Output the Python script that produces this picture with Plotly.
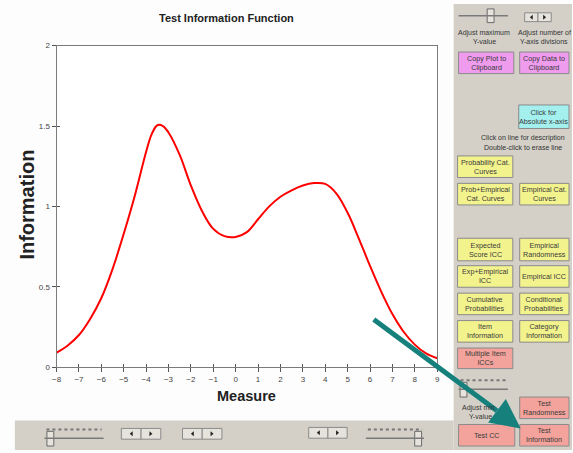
import plotly.graph_objects as go

# ---------------- data ----------------
measure = [-8, -7.5, -7, -6.5, -6, -5.5, -5, -4.5, -4, -3.75, -3.5, -3.25, -3, -2.5, -2, -1.5, -1, -0.5,
           0, 0.5, 1, 1.5, 2, 2.5, 3, 3.5, 4, 4.5, 5, 5.5, 6, 6.5, 7, 7.5, 8, 8.5, 9]
information = [0.09, 0.135, 0.20, 0.30, 0.43, 0.61, 0.83, 1.07, 1.34, 1.45, 1.505, 1.50, 1.46, 1.32, 1.13,
               0.97, 0.86, 0.815, 0.81, 0.84, 0.92, 1.00, 1.06, 1.10, 1.13, 1.145, 1.14, 1.08,
               0.96, 0.80, 0.63, 0.47, 0.33, 0.22, 0.14, 0.085, 0.055]
x_ticks = list(range(-8, 10))
y_ticks = [0, 0.5, 1, 1.5, 2]

title_text = "Test Information Function"
x_title = "Measure"
y_title = "Information"

# ---------------- layout helpers ----------------
W, H = 573, 453
def X(px):
    return px / W
def Y(py):
    return 1 - py / H

FONT = "Arial, Liberation Sans, sans-serif"
GRAY = "#d4d0c8"

fig = go.Figure()
fig.add_trace(go.Scatter(x=measure, y=information, mode="lines",
                         line=dict(color="#ff0000", width=2, shape="spline", smoothing=1.0),
                         showlegend=False, hoverinfo="skip"))
# empty trace to host the inside-tick overlay axes
fig.add_trace(go.Scatter(x=[], y=[], xaxis="x2", yaxis="y2", showlegend=False))

x_dom = [X(52.3), X(438.3)]
y_dom = [Y(370.5), Y(42.5)]

axis_common = dict(showgrid=False, zeroline=False, linecolor="#7a7a7a", linewidth=1,
                   tickcolor="#555555", tickwidth=1,
                   tickfont=dict(family=FONT, size=8, color="#444444"))

shapes = []
annotations = []

def rect(x0, y0, x1, y1, fill, line="#8c8c8c", lw=1):
    shapes.append(dict(type="rect", xref="paper", yref="paper",
                       x0=X(x0), x1=X(x1), y0=Y(y1), y1=Y(y0),
                       fillcolor=fill, line=dict(color=line, width=lw), layer="below"))

def line(x0, y0, x1, y1, color="#666666", w=1, dash="solid", layer="above"):
    shapes.append(dict(type="line", xref="paper", yref="paper",
                       x0=X(x0), x1=X(x1), y0=Y(y0), y1=Y(y1),
                       line=dict(color=color, width=w, dash=dash), layer=layer))

def text(x, y, s, size=7.5, color="#333333", bold=False, angle=0):
    annotations.append(dict(xref="paper", yref="paper", x=X(x), y=Y(y),
                            text=("<b>%s</b>" % s) if bold else s, showarrow=False,
                            xanchor="center", yanchor="middle", textangle=angle,
                            font=dict(family=FONT, size=size, color=color)))

def button(x0, y0, x1, y1, fill, label):
    rect(x0, y0, x1, y1, fill, line="#8a8a8a")
    text((x0 + x1) / 2, (y0 + y1) / 2, label, size=7.2, color="#3a3a3a")

def tri(cx, cy, direction):
    if direction == "left":
        path = f"M {X(cx+1.5)} {Y(cy-2.5)} L {X(cx-1.5)} {Y(cy)} L {X(cx+1.5)} {Y(cy+2.5)} Z"
    else:
        path = f"M {X(cx-1.5)} {Y(cy-2.5)} L {X(cx+1.5)} {Y(cy)} L {X(cx-1.5)} {Y(cy+2.5)} Z"
    shapes.append(dict(type="path", xref="paper", yref="paper", path=path,
                       fillcolor="#222222", line=dict(width=0)))

def spin(x0, y0, x1, y1):
    mid = (x0 + x1) / 2
    rect(x0, y0, mid, y1, "#e6e3dc", line="#8a8a8a")
    rect(mid, y0, x1, y1, "#e6e3dc", line="#8a8a8a")
    tri((x0 + mid) / 2, (y0 + y1) / 2, "left")
    tri((mid + x1) / 2, (y0 + y1) / 2, "right")

def slider(x0, x1, y, thumb_x, ticks=True):
    if ticks:
        line(x0 + 2, y - 9, x1 - 2, y - 9, color="#777777", w=2, dash="dot")
    line(x0, y, x1, y, color="#7a7a7a", w=1.5)
    rect(thumb_x - 3.5, y - 7, thumb_x + 3.5, y + 8, "#e6e3dc", line="#6a6a6a")

# ---------------- panels ----------------
rect(455, 0, 575, 455, GRAY, line=GRAY, lw=0)
rect(10, 425, 455, 455, GRAY, line=GRAY, lw=0)

# right panel top controls
line(460, 12, 510, 12, color="#7a7a7a", w=1.5)
rect(489, 5, 496, 19, "#e6e3dc", line="#6a6a6a")
spin(527, 9, 554, 18)
text(486, 30, "Adjust maximum", size=7)
text(486, 38, "Y-value", size=7)
text(547, 30, "Adjust number of", size=7)
text(547, 38, "Y-axis divisions", size=7)

button(460, 49, 516, 71, "#ef9cef", "Copy Plot to<br>Clipboard")
button(522, 49, 572, 71, "#ef9cef", "Copy Data to<br>Clipboard")
button(521, 103, 572, 127, "#a4f0ee", "Click for<br>Absolute x-axis")
text(525, 137, "Click on line for description", size=7)
text(525, 146, "Double-click to erase line", size=7)

YEL = "#f3f38e"
SAL = "#f3a39b"
button(459, 155, 515, 177, YEL, "Probability Cat.<br>Curves")
button(459, 183, 515, 205, YEL, "Prob+Empirical<br>Cat. Curves")
button(522, 183, 572, 205, YEL, "Empirical Cat.<br>Curves")
button(459, 239, 515, 262, YEL, "Expected<br>Score ICC")
button(522, 239, 572, 262, YEL, "Empirical<br>Randomness")
button(459, 267, 515, 289, YEL, "Exp+Empirical<br>ICC")
button(522, 267, 572, 289, YEL, "Empirical ICC")
button(459, 295, 515, 317, YEL, "Cumulative<br>Probabilities")
button(522, 295, 572, 317, YEL, "Conditional<br>Probabilities")
button(459, 323, 515, 345, YEL, "Item<br>Information")
button(522, 323, 572, 345, YEL, "Category<br>Information")
button(459, 351, 515, 372, SAL, "Multiple Item<br>ICCs")

slider(460, 510, 393, 465)
text(480, 412, "Adjust min", size=7)
text(482, 421, "Y-value", size=7)

button(522, 401, 572, 423, SAL, "Test<br>Randomness")
button(460, 429, 517, 451, SAL, "Test CC")
button(522, 429, 572, 451, SAL, "Test<br>Information")

# bottom panel controls
slider(40, 100, 443, 46)
spin(118, 433, 158, 444)
spin(180, 433, 220, 444)
spin(308, 432, 347, 443)
slider(366, 425, 443, 419)

# teal arrow
tip = (523.0, 433.0)
start = (374.0, 322.0)
dx, dy = tip[0] - start[0], tip[1] - start[1]
L = (dx ** 2 + dy ** 2) ** 0.5
ux, uy = dx / L, dy / L
hl, hw = 30, 15
bx, by = tip[0] - hl * ux, tip[1] - hl * uy
px_, py_ = -uy, ux
line(start[0], start[1], bx, by, color="#16807c", w=5)
c1 = (bx + hw * px_, by + hw * py_)
c2 = (bx - hw * px_, by - hw * py_)
shapes.append(dict(type="path", xref="paper", yref="paper",
                   path=f"M {X(tip[0])} {Y(tip[1])} L {X(c1[0])} {Y(c1[1])} L {X(c2[0])} {Y(c2[1])} Z",
                   fillcolor="#16807c", line=dict(width=0)))

# titles
text(225, 14, title_text, size=11, color="#222222", bold=True)
text(245, 400, x_title, size=14.5, color="#222222", bold=True)
text(22, 205, y_title, size=20, color="#222222", bold=True, angle=-90)

fig.update_layout(
    width=W, height=H, margin=dict(l=0, r=0, t=0, b=0),
    paper_bgcolor="#fdfdfd", plot_bgcolor="#ffffff",
    showlegend=False,
    xaxis=dict(domain=x_dom, range=[-8, 9], tickmode="array", tickvals=x_ticks,
               ticks="outside", ticklen=4, showline=True, mirror=True, anchor="y",
               **axis_common),
    yaxis=dict(domain=y_dom, range=[0, 2], tickmode="array", tickvals=y_ticks,
               ticks="outside", ticklen=4, showline=True, mirror=True, anchor="x",
               **axis_common),
    xaxis2=dict(domain=x_dom, range=[-8, 9], tickmode="array", tickvals=x_ticks,
                ticks="inside", ticklen=3, showticklabels=False, showline=False,
                showgrid=False, zeroline=False, tickcolor="#555555", anchor="y2",
                overlaying="x", side="bottom"),
    yaxis2=dict(domain=y_dom, range=[0, 2], tickmode="array", tickvals=y_ticks,
                ticks="inside", ticklen=3, showticklabels=False, showline=False,
                showgrid=False, zeroline=False, tickcolor="#555555", anchor="x2",
                overlaying="y", side="left"),
    shapes=shapes, annotations=annotations,
)

fig.write_html("out.html", config={"displayModeBar": False},
               post_script="document.body.style.margin='0px';document.body.style.overflow='hidden';")
